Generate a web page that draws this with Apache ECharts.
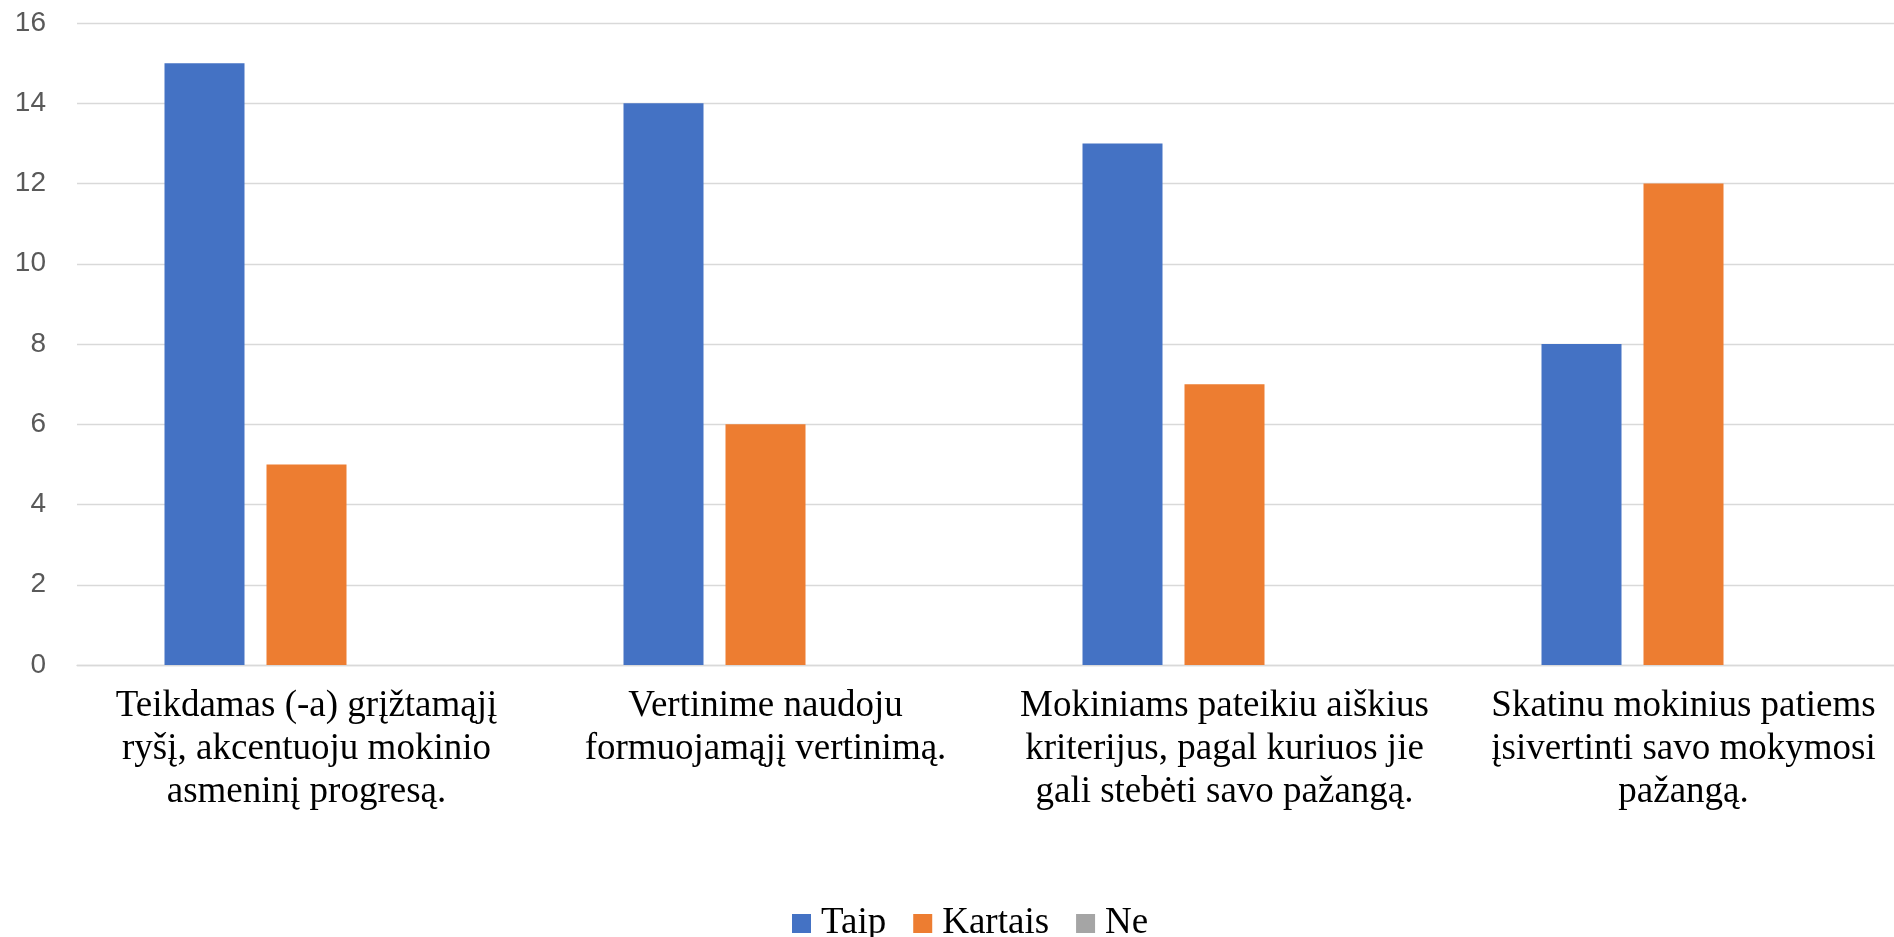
<!DOCTYPE html>
<html>
<head>
<meta charset="utf-8">
<script src="https://cdn.jsdelivr.net/npm/echarts@6/dist/echarts.min.js"></script>
<style>
html,body{margin:0;padding:0;background:#fff;overflow:hidden;}
#chart{width:1894px;height:937px;}
</style>
</head>
<body>
<div id="chart"></div>
<script>
const categories = [
  "Teikdamas (-a) grįžtamąjį\nryšį, akcentuoju mokinio\nasmeninį progresą.",
  "Vertinime naudoju\nformuojamąjį vertinimą.",
  "Mokiniams pateikiu aiškius\nkriterijus, pagal kuriuos jie\ngali stebėti savo pažangą.",
  "Skatinu mokinius patiems\nįsivertinti savo mokymosi\npažangą."
];
const seriesNames = ["Taip", "Kartais", "Ne"];
const taip = [15, 14, 13, 8];
const kartais = [5, 6, 7, 12];
const ne = [0, 0, 0, 0];
const colors = ["#4472C4", "#ED7D31", "#A5A5A5"];

const chart = echarts.init(document.getElementById('chart'));
const serif = '"Liberation Serif", "Times New Roman", serif';
chart.setOption({
  animation: false,
  color: colors,
  grid: { left: 77, width: 1836, top: 23, bottom: 272, containLabel: false, outerBoundsMode: 'none' },
  legend: {
    data: seriesNames,
    left: 787,
    top: 898,
    itemWidth: 19,
    itemHeight: 19,
    itemGap: 27,
    icon: 'rect',
    textStyle: { fontFamily: serif, fontSize: 37, color: '#000', lineHeight: 41, padding: [0,0,0,5] }
  },
  xAxis: {
    type: 'category',
    data: categories,
    axisLine: { lineStyle: { color: '#d9d9d9', width: 1.3 } },
    axisTick: { show: false },
    axisLabel: {
      interval: 0,
      margin: 20,
      fontFamily: serif,
      fontSize: 37,
      lineHeight: 43,
      color: '#000',
      align: 'center'
    }
  },
  yAxis: {
    type: 'value',
    min: 0,
    max: 16,
    interval: 2,
    axisLine: { show: false },
    axisTick: { show: false },
    splitLine: { lineStyle: { color: '#d9d9d9', width: 1.3 } },
    axisLabel: {
      margin: 31,
      fontFamily: '"Liberation Sans", Arial, sans-serif',
      fontSize: 28,
      color: '#595959'
    }
  },
  series: [
    { name: seriesNames[0], type: 'bar', data: taip, barWidth: 80, barGap: '27.5%' },
    { name: seriesNames[1], type: 'bar', data: kartais, barWidth: 80, barGap: '27.5%' },
    { name: seriesNames[2], type: 'bar', data: ne, barWidth: 80, barGap: '27.5%' }
  ]
});
</script>
</body>
</html>
